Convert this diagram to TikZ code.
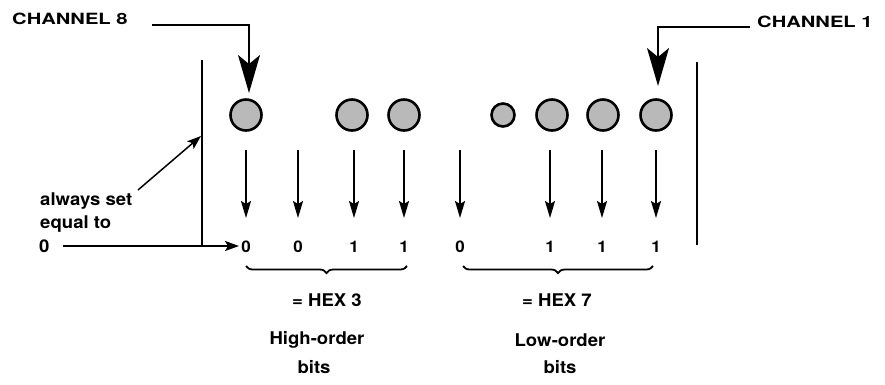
\documentclass[tikz,border=0pt]{standalone}
\usepackage{fontspec}
\setmainfont{TeX Gyre Heros}
\newfontfamily\chfont[FakeStretch=1.3]{TeX Gyre Heros}
\newfontfamily\lfont[FakeStretch=1.06]{TeX Gyre Heros}
\usetikzlibrary{arrows.meta,decorations.pathreplacing}
\begin{document}
\begin{tikzpicture}[x=1pt,y=-1pt,
  hole/.style={circle, draw=black, line width=2.6pt, fill=gray!55, minimum size=31pt, inner sep=0pt},
  smallhole/.style={hole, minimum size=23pt},
  bitarrow/.style={-{Stealth[length=17pt,width=10pt,inset=3pt]}, line width=1.7pt},
  bigarrow/.style={-{Stealth[length=38pt,width=22pt,inset=9pt]}, line width=1.4pt},
  ptrarrow/.style={-{Stealth[length=14pt,width=10pt,inset=3pt]}, line width=1.5pt},
  bar/.style={line width=2.6pt},
  digit/.style={font=\lfont\bfseries\fontsize{16}{19}\selectfont, inner sep=0pt, anchor=base},
  lbl/.style={font=\lfont\bfseries\fontsize{17.5}{21}\selectfont, inner sep=0pt},
  chlbl/.style={font=\chfont\bfseries\fontsize{15.5}{18}\selectfont, inner sep=0pt, anchor=base west},
  brace/.style={decorate, decoration={brace, mirror, amplitude=7pt}, line width=1.8pt}
]
\useasboundingbox (0,0) rectangle (885,384);

% channel labels and arrows
\node[chlbl] (ch8) at (12,24) {CHANNEL 8};
\node[chlbl] (ch1) at (757,27) {CHANNEL 1};
\coordinate (ch8s) at (152,25);
\coordinate (ch8c) at (249,25);
\coordinate (ch8e) at (249,93);
\coordinate (ch1s) at (750,27);
\coordinate (ch1c) at (658,27);
\coordinate (ch1e) at (658,86);
\draw[bigarrow] (ch8s) -- (ch8c) -- (ch8e);
\draw[bigarrow] (ch1s) -- (ch1c) -- (ch1e);

% side bars
\coordinate (lbt) at (202,60);
\coordinate (lbb) at (202,247);
\coordinate (rbt) at (697,62);
\coordinate (rbb) at (697,245);
\draw[bar] (lbt) -- (lbb);
\draw[bar] (rbt) -- (rbb);

% holes
\node[hole] (h8) at (246,115) {};
\node[hole] (h6) at (352,115) {};
\node[hole] (h5) at (404,115) {};
\node[smallhole] (feed) at (503,115) {};
\node[hole] (h3) at (552,115) {};
\node[hole] (h2) at (603,115) {};
\node[hole] (h1) at (656,115) {};

% bits
\foreach \i/\x/\b in {1/246/0,2/298/0,3/354/1,4/404/1,5/460/0,6/550/1,7/602/1,8/656/1}{
  \node[digit] (b\i) at (\x,252) {\b};
  \coordinate (s\i) at (\x,150);
  \coordinate (e\i) at (\x,218);
  \draw[bitarrow] (s\i) -- (e\i);
}

% always set equal to 0
\node[lbl, anchor=base west] (al1) at (40,205) {always set};
\node[lbl, anchor=base west] (al2) at (40,228) {equal to};
\node[lbl, anchor=base west] (zero) at (39,252) {0};
\coordinate (zs) at (63,246);
\coordinate (ze) at (239,246);
\draw[ptrarrow] (zs) -- (ze);
\coordinate (ps) at (138,190);
\coordinate (pe) at (201,136);
\draw[ptrarrow] (ps) -- (pe);

% braces
\coordinate (br1a) at (246,266);
\coordinate (br1b) at (407,266);
\coordinate (br2a) at (463,266);
\coordinate (br2b) at (653,266);
\draw[brace] (br1a) -- (br1b);
\draw[brace] (br2a) -- (br2b);

% labels
\node[lbl] (hex3) at (327,300) {= HEX 3};
\node[lbl] (hex7) at (557,300) {= HEX 7};
\node[lbl] (high) at (317,340) {High-order};
\node[lbl] (bits1) at (314,367) {bits};
\node[lbl] (low) at (560,340) {Low-order};
\node[lbl] (bits2) at (560,367) {bits};
\end{tikzpicture}
\end{document}
